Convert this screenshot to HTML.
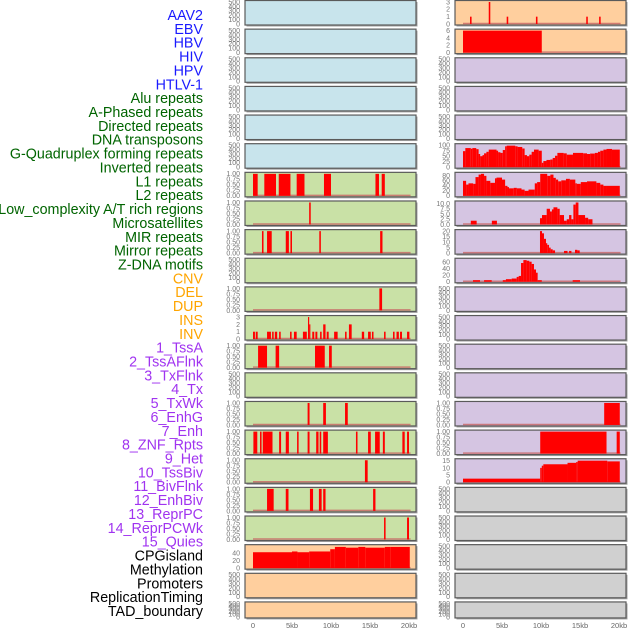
<!DOCTYPE html>
<html><head><meta charset="utf-8"><style>
html,body{margin:0;padding:0;background:#fff;width:630px;height:630px;overflow:hidden}
svg{display:block}
text{font-family:"Liberation Sans",sans-serif}
</style></head><body>
<svg id="chart" width="630" height="630" viewBox="0 0 630 630" xmlns="http://www.w3.org/2000/svg"></svg>
<script>
const trackLabels = ["AAV2","EBV","HBV","HIV","HPV","HTLV-1","Alu repeats","A-Phased repeats","Directed repeats","DNA transposons","G-Quadruplex forming repeats","Inverted repeats","L1 repeats","L2 repeats","Low_complexity A/T rich regions","Microsatellites","MIR repeats","Mirror repeats","Z-DNA motifs","CNV","DEL","DUP","INS","INV","1_TssA","2_TssAFlnk","3_TxFlnk","4_Tx","5_TxWk","6_EnhG","7_Enh","8_ZNF_Rpts","9_Het","10_TssBiv","11_BivFlnk","12_EnhBiv","13_ReprPC","14_ReprPCWk","15_Quies","CPGisland","Methylation","Promoters","ReplicationTiming","TAD_boundary"];
const labelGroups = [6,13,5,15,5];
const xTickValues = [0,5,10,15,20];
const xTickLabels = ["0","5kb","10kb","15kb","20kb"];
const T500 = ["0","100","200","300","400","500"];
const T1 = ["0.00","0.25","0.50","0.75","1.00"];

const L6 = [[0,0.6,1],[1.45,2.95,1],[3.3,4.8,1],[5.6,6.6,1],[9.1,10,1],[15.7,16.15,1],[16.5,16.9,1]];
const L7 = [[7.2,7.4,1]];
const L8 = [[1.15,1.35,1],[1.8,2.4,1],[4.2,4.6,1],[4.8,5.0,1],[8.5,8.7,1],[16.3,16.6,1]];
const L10 = [[16.2,16.55,1]];
const L11 = [[0,0.25,1],[0.35,0.6,1],[1.8,2.3,1],[2.45,2.65,1],[2.8,3.1,1],[3.35,3.55,1],[4.75,4.95,1],[5.25,5.6,1],[6.4,6.9,1],[7.05,7.2,3],[7.2,7.3,2],[7.6,7.85,1],[8.0,8.25,1],[8.6,8.8,1],[9.0,9.3,2],[9.45,9.7,1],[10.4,10.85,1],[11.8,12.0,1],[12.3,12.65,2],[13.95,14.25,1],[14.75,15.1,1],[15.25,15.45,1],[16.8,17.0,1],[17.95,18.15,1],[18.4,18.7,1],[18.85,19.1,1],[19.75,20.05,1]];
const L12 = [[0.65,1.8,1],[2.9,3.35,1],[7.95,9.2,1],[9.75,10.1,1]];
const L14 = [[7.0,7.25,1],[9.0,9.35,1],[11.8,12.15,1]];
const L15 = [[0.05,0.55,1],[0.9,1.1,1],[1.25,2.5,1],[3.35,3.6,1],[4.2,4.6,1],[5.65,5.85,1],[7.0,7.25,1],[8.1,8.4,1],[8.55,8.75,1],[9.0,9.6,1],[13.2,13.4,1],[14.75,15.1,1],[15.65,16.25,1],[16.65,16.9,1],[19.15,19.45,1],[19.75,20.0,1]];
const L16 = [[14.35,14.7,1]];
const L17 = [[1.8,2.65,1],[4.2,4.55,1],[7.3,7.7,1],[8.45,8.8,1],[9.0,9.3,1],[15.4,15.7,1]];
const L18 = [[16.8,17.0,1],[19.75,20.0,1]];
const cpgStarts = [0,5.0,5.7,7.2,9.9,10.5,11.9,13.5,14.4,16.9,17.6];
const cpgValues = [42,44,42,44,50,56,54,56,54,56,56];

const R0 = [[0.9,1.1,1],[3.3,3.5,3],[5.6,5.8,1],[9.35,9.55,1],[15.8,16.0,1],[17.45,17.65,1]];
const R1 = [[0,10.1,6]];
const gqStarts = [0,0.3,1.0,1.2,1.7,2.0,2.2,2.5,2.7,3.0,3.3,4.3,4.5,4.8,5.1,5.4,5.6,6.7,7.0,7.6,7.9,8.2,8.5,8.8,9.1,9.7,10.1,10.3,10.7,11.2,11.5,11.8,12.1,12.9,13.3,14.1,15.4,15.9,16.3,16.9,17.3,17.6,18.0,18.4,19.1];
const gqValues = [73,87,84,87,82,60,50,55,63,70,80,75,68,65,78,95,98,95,92,85,55,50,57,70,80,75,20,28,33,35,42,52,65,63,57,65,63,60,62,65,70,75,80,83,80];
const invStarts = [0,0.4,0.7,1.3,1.6,2.0,2.3,2.7,3.0,3.5,4.1,4.3,5.0,5.4,5.7,5.9,6.5,6.9,7.5,7.9,8.4,9.2,9.5,9.9,10.8,11.2,11.6,11.9,12.2,12.6,13.2,13.7,14.4,14.6,15.1,15.9,17.1,17.6,18.0,18.4];
const invValues = [60,45,50,48,75,85,88,80,60,52,70,73,65,40,35,30,32,30,25,20,25,50,55,88,80,85,72,65,58,62,68,65,50,48,55,58,52,45,40,40];
const R7 = [[1.0,1.75,1.8],[3.7,4.35,1.8],[9.87,10.13,3],[10.13,10.73,4.5],[10.73,11.15,7.5],[11.15,11.4,6.2],[11.4,11.6,7.2],[11.6,12.1,8.2],[12.1,12.4,7.5],[12.4,12.95,4.5],[12.95,13.3,1.8],[13.3,13.6,2.5],[13.6,13.9,4.5],[13.9,14.15,2.5],[14.15,14.45,9.5],[14.45,14.8,10.5],[14.8,15.65,4.5],[15.65,16.05,3.2],[16.05,16.6,2.5]];
const R8 = [[9.87,10.13,20],[10.13,10.38,18],[10.38,10.64,13],[10.64,10.8,9],[10.8,11.03,7.5],[11.03,11.24,5],[11.24,11.5,3.5],[11.5,11.8,2.5],[12.95,13.4,2],[13.6,13.9,2],[14.36,14.66,3],[14.66,14.96,2.5]];
const R9 = [[1.28,2.18,5],[2.7,3.68,5],[5.1,5.5,5],[5.5,6.24,8],[6.24,6.88,10],[6.88,7.14,15],[7.14,7.44,18],[7.44,7.74,58],[7.74,8.16,67],[8.16,8.5,65],[8.5,8.8,62],[8.8,9.1,55],[9.1,9.36,38],[9.36,9.57,28],[9.57,10.1,5],[14.06,15.0,5]];
const R14 = [[18.1,20.1,1]];
const R15 = [[9.9,18.4,1],[19.7,20.1,1]];
const r16Starts = [0,9.9,10.1,10.3,13.4,14.5,14.7,18.5];
const r16Values = [2.5,10,11.5,12.5,13.5,14,15,14.5];

function steps(starts, values, end){
  const out=[];
  for(let i=0;i<starts.length;i++){out.push([starts[i], i+1<starts.length?starts[i+1]:end, values[i]]);}
  return out;
}

const BG = {blue:"#c8e4ec",green:"#c9e1a6",peach:"#ffcf9e",purple:"#d5c5e2",grey:"#d0d0d0"};
const left = [];
for(let i=0;i<22;i++){left.push({bg:i<6?"blue":(i<19?"green":"peach"),max:500,ticks:T500,segs:null});}
const setL=(i,max,ticks,segs)=>{left[i].max=max;left[i].ticks=ticks;left[i].segs=segs;};
setL(6,1,T1,L6);setL(7,1,T1,L7);setL(8,1,T1,L8);setL(10,1,T1,L10);
setL(11,3,["0","1","2","3"],L11);setL(12,1,T1,L12);setL(14,1,T1,L14);
setL(15,1,T1,L15);setL(16,1,T1,L16);setL(17,1,T1,L17);setL(18,1,T1,L18);
setL(19,58,["0","20","40"],steps(cpgStarts,cpgValues,20.1));
const right = [];
for(let i=0;i<22;i++){right.push({bg:i<2?"peach":(i<17?"purple":"grey"),max:500,ticks:T500,segs:null});}
const setR=(i,max,ticks,segs)=>{right[i].max=max;right[i].ticks=ticks;right[i].segs=segs;};
setR(0,3,["0","1","2","3"],R0);setR(1,6,["0","2","4","6"],R1);
setR(5,100,["0","25","50","75","100"],steps(gqStarts,gqValues,20.1));
setR(6,88,["0","20","40","60","80"],steps(invStarts,invValues,20.1));
setR(7,10.5,["0.0","2.5","5.0","7.5","10.0"],R7);
setR(8,20,["0","5","10","15","20"],R8);
setR(9,68,["0","20","40","60"],R9);
setR(14,1,T1,R14);setR(15,1,T1,R15);
setR(16,15.3,["0","5","10","15"],steps(r16Starts,r16Values,20.1));

const svg=document.getElementById("chart");
const NS="http://www.w3.org/2000/svg";
function el(tag,attrs,parent){const e=document.createElementNS(NS,tag);for(const k in attrs)e.setAttribute(k,attrs[k]);(parent||svg).appendChild(e);return e;}

const colors=["#1a1aff","#006400","#ffa500","#a033f0","#000000"];
let gi=0,cnt=0;
trackLabels.forEach((t,i)=>{
  while(cnt>=labelGroups[gi]){gi++;cnt=0;}
  cnt++;
  const tx=el("text",{x:203,y:15+i*13.86+5,"text-anchor":"end","font-size":"14.3",fill:colors[gi]});
  tx.textContent=t;
  
  
});

function drawCol(panels,x0,name){
  const kbPx=7.8, zeroX=x0+8;
  const xs=kb=>zeroX+kb*kbPx;
  panels.forEach((p,i)=>{
    const top=0.5+i*28.64, h=(i==21)?16:24.5;
    const g=el("g",{});
    
    
    el("rect",{x:x0+1.5,y:top+1.5,width:171,height:h,fill:"#a0a0a0"},g);
    el("rect",{x:x0,y:top,width:171,height:h,fill:BG[p.bg],stroke:"#5a5a5a","stroke-width":1.2},g);
    const bottom=top+h-1;
    const ys=v=>bottom-v/p.max*(h-2.5);
    if(p.segs){
      el("line",{x1:xs(0),x2:xs(20.2),y1:bottom-0.5,y2:bottom-0.5,stroke:"#c86464","stroke-width":1.5,"stroke-opacity":0.8},g);
      p.segs.forEach(s=>{
        const b=el("rect",{x:xs(s[0]),y:ys(s[2]),width:Math.max(1.2,xs(s[1])-xs(s[0])),height:bottom-ys(s[2]),fill:"#ff0000"},g);
        
        
      });
    }
    p.ticks.forEach((t,k)=>{
      const v=p.max===500?k*100:parseFloat(t);
      const tt=el("text",{x:x0-5,y:ys(v)+2.4,"text-anchor":"end","font-size":"7",fill:"#777"},g);
      tt.textContent=t;
    });
  });
  xTickValues.forEach((v,k)=>{
    const t=el("text",{x:xs(v),y:628,"text-anchor":"middle","font-size":"7.5",fill:"#666"});
    t.textContent=xTickLabels[k];
    
    
  });
}
drawCol(left,245,"left");
drawCol(right,455,"right");
</script>
</body></html>
